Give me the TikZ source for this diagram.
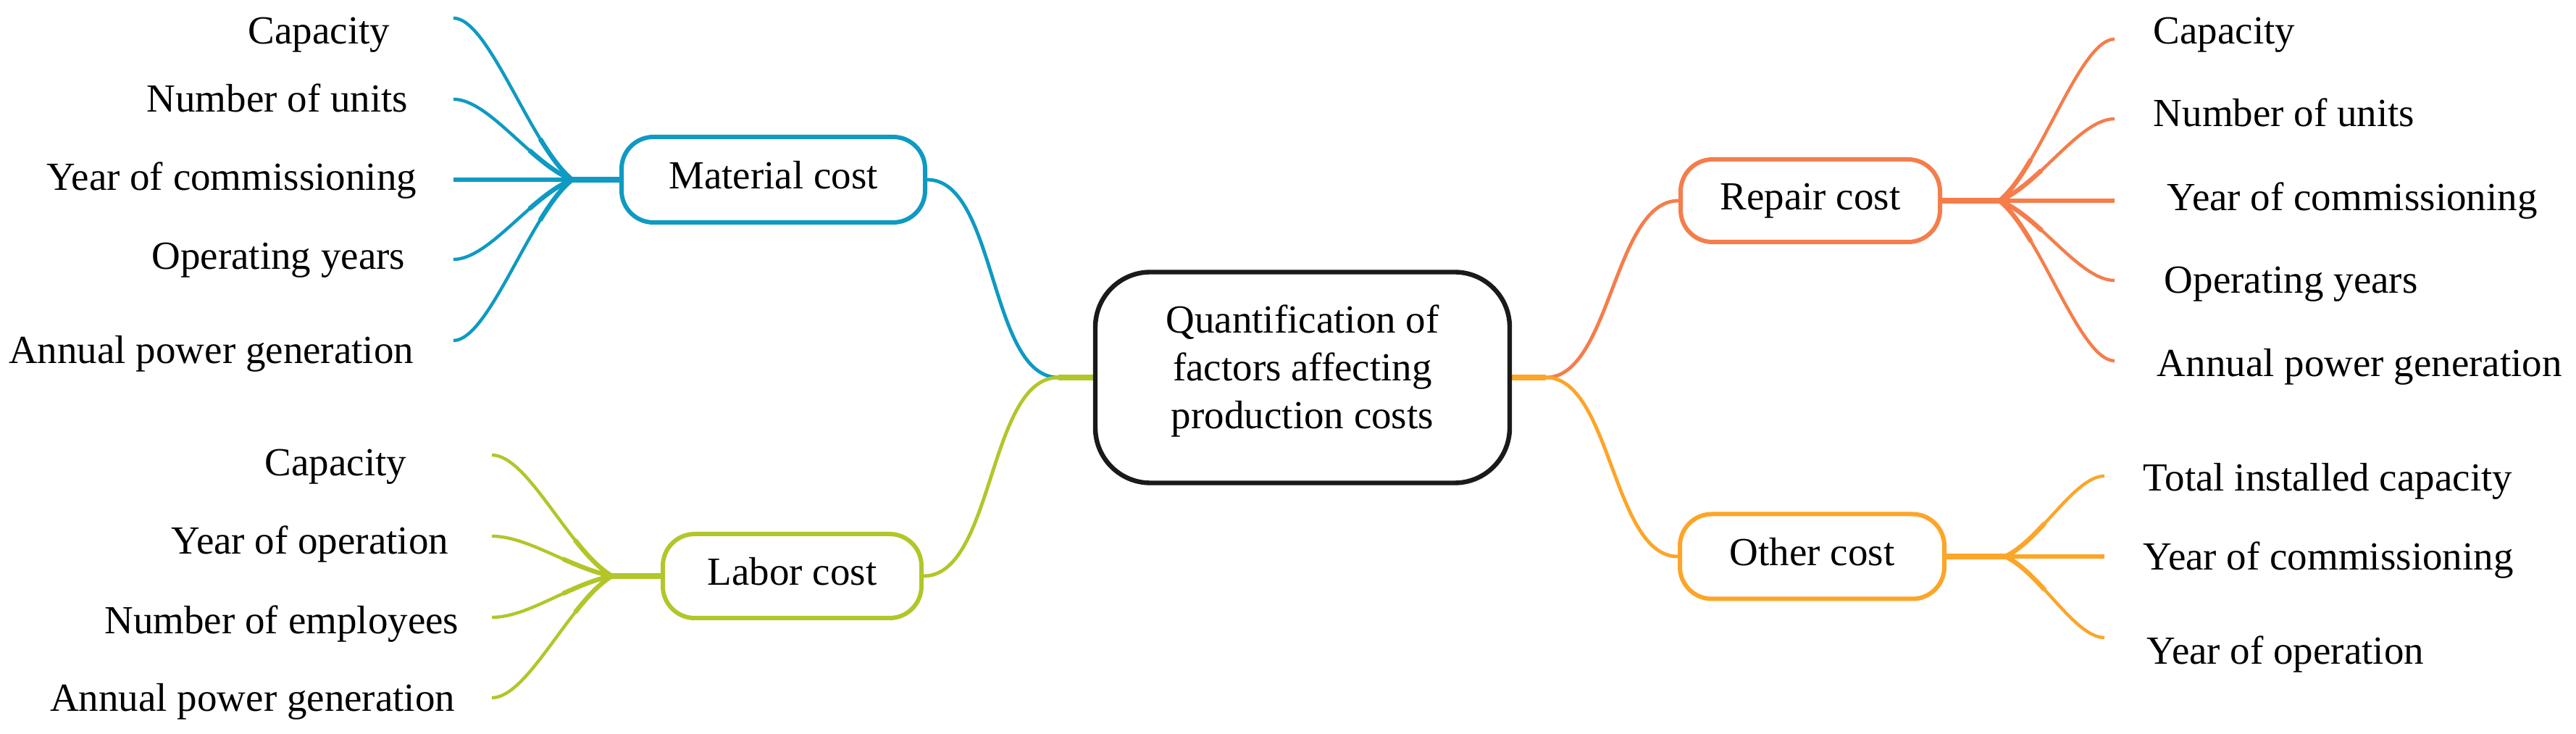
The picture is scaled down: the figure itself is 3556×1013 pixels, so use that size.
\documentclass[tikz,border=0pt]{standalone}
\usepackage{fontspec}
\usetikzlibrary{backgrounds}
\setmainfont{Liberation Serif}
\newcommand\dgfont{\fontsize{13.75pt}{16.4pt}\selectfont}
\definecolor{cblue}{HTML}{0E9AC2}
\definecolor{cgreen}{HTML}{B2C629}
\definecolor{cred}{HTML}{F57D4B}
\definecolor{corange}{HTML}{FCA528}
\definecolor{ccore}{HTML}{1A1A1A}
% tapered twig: #1 colour, #2 start, #3 first control (rel. start), #4 second control (rel. end), #5 end
\newcommand\twig[5]{%
  \draw[#1, line width=1.1pt] (#2) .. controls +(#3) and +(#4) .. (#5);
  \draw[#1, line width=1.6pt, dash pattern=on 18pt off 2000pt] (#2) .. controls +(#3) and +(#4) .. (#5);}
\begin{document}
\begin{tikzpicture}[x=0.25pt,y=-0.25pt,
  subbox/.style={draw, line width=1.5pt, rounded corners=11pt, fill=white, inner sep=0pt,
    text height=0.8em, text depth=0.18em, font=\dgfont},
  corebox/.style={draw=ccore, line width=1.6pt, rounded corners=19pt, fill=white, inner sep=0pt,
    minimum width=143pt, minimum height=72.75pt},
  leafL/.style={font=\dgfont, inner sep=0pt, anchor=base east},
  leafR/.style={font=\dgfont, inner sep=0pt, anchor=base west},
  conn/.style={line width=1.2pt},
  stub/.style={line width=1.9pt},
  straighttwig/.style={line width=1.5pt}]

% junction and end coordinates
\coordinate (jcl) at (1461,521);
\coordinate (jcr) at (2134,521);
\coordinate (jm) at (790,248);
\coordinate (jl) at (845,795);
\coordinate (jr) at (2760,277);
\coordinate (jo) at (2768,768);
\coordinate (m1) at (626,25);
\coordinate (m2) at (626,137);
\coordinate (m3) at (626,248);
\coordinate (m4) at (626,358);
\coordinate (m5) at (626,470);
\coordinate (l1) at (679,628);
\coordinate (l2) at (679,740);
\coordinate (l3) at (679,852);
\coordinate (l4) at (679,963);
\coordinate (r1) at (2919,54);
\coordinate (r2) at (2919,164);
\coordinate (r3) at (2919,277);
\coordinate (r4) at (2919,387);
\coordinate (r5) at (2919,498);
\coordinate (o1) at (2905,657);
\coordinate (o2) at (2905,768);
\coordinate (o3) at (2905,880);

% boxes
\node[corebox] (core) at (1798,521) {};
\node[font=\dgfont, align=center, inner sep=0pt] (coretext) at (1798,512) {Quantification of\\factors affecting\\production costs};
\node[subbox, draw=cblue, minimum width=104.75pt, minimum height=29.5pt] (mat) at (1067.5,248) {Material cost};
\node[subbox, draw=cgreen, minimum width=89.25pt, minimum height=29pt] (lab) at (1093.5,795) {Labor cost};
\node[subbox, draw=cred, minimum width=89.5pt, minimum height=28.5pt] (rep) at (2499,277) {Repair cost};
\node[subbox, draw=corange, minimum width=91.25pt, minimum height=29.25pt] (oth) at (2501.5,768) {Other cost};

% leaves
\node[leafL] (tm1) at (539,61) {Capacity};
\node[leafL] (tm2) at (564,155) {Number of units};
\node[leafL] (tm3) at (576,263) {Year of commissioning};
\node[leafL] (tm4) at (560,372) {Operating years};
\node[leafL] (tm5) at (572,502) {Annual power generation};
\node[leafL] (tl1) at (562,657) {Capacity};
\node[leafL] (tl2) at (620,765) {Year of operation};
\node[leafL] (tl3) at (634,875) {Number of employees};
\node[leafL] (tl4) at (629,982) {Annual power generation};
\node[leafR] (tr1) at (2972,61) {Capacity};
\node[leafR] (tr2) at (2972,175) {Number of units};
\node[leafR] (tr3) at (2991,291) {Year of commissioning};
\node[leafR] (tr4) at (2987,405) {Operating years};
\node[leafR] (tr5) at (2977,520) {Annual power generation};
\node[leafR] (to1) at (2958,678) {Total installed capacity};
\node[leafR] (to2) at (2958,787) {Year of commissioning};
\node[leafR] (to3) at (2963,917) {Year of operation};

\begin{scope}[on background layer]
\path[use as bounding box, fill=white] (0,0) rectangle (3556,1013);
% main connectors
\draw[cblue, conn] (jcl) to[out=180,in=0,looseness=0.75] (mat.east);
\draw[cgreen, conn] (jcl) to[out=180,in=0,looseness=0.75] (lab.east);
\draw[cgreen, stub] (core.west) -- (jcl);
\draw[cred, conn] (jcr) to[out=0,in=180,looseness=0.75] (rep.west);
\draw[corange, conn] (jcr) to[out=0,in=180,looseness=0.75] (oth.west);
\draw[corange, stub] (core.east) -- (jcr);
% stubs to twig junctions
\draw[cblue, stub] (mat.west) -- (jm);
\draw[cgreen, stub] (lab.west) -- (jl);
\draw[cred, stub] (rep.east) -- (jr);
\draw[corange, stub] (oth.east) -- (jo);
% material twigs
\twig{cblue}{jm}{-57,-45}{49,0}{m1}
\twig{cblue}{jm}{-57,-22}{49,0}{m2}
\draw[cblue, straighttwig] (jm) -- (m3);
\twig{cblue}{jm}{-57,22}{49,0}{m4}
\twig{cblue}{jm}{-57,44}{49,0}{m5}
% labor twigs
\twig{cgreen}{jl}{-58,-33}{50,0}{l1}
\twig{cgreen}{jl}{-58,-11}{50,0}{l2}
\twig{cgreen}{jl}{-58,11}{50,0}{l3}
\twig{cgreen}{jl}{-58,34}{50,0}{l4}
% repair twigs
\twig{cred}{jr}{56,-45}{-48,0}{r1}
\twig{cred}{jr}{56,-23}{-48,0}{r2}
\draw[cred, straighttwig] (jr) -- (r3);
\twig{cred}{jr}{56,22}{-48,0}{r4}
\twig{cred}{jr}{56,44}{-48,0}{r5}
% other twigs
\twig{corange}{jo}{48,-22}{-41,0}{o1}
\draw[corange, straighttwig] (jo) -- (o2);
\twig{corange}{jo}{48,22}{-41,0}{o3}
\end{scope}
\end{tikzpicture}
\end{document}
